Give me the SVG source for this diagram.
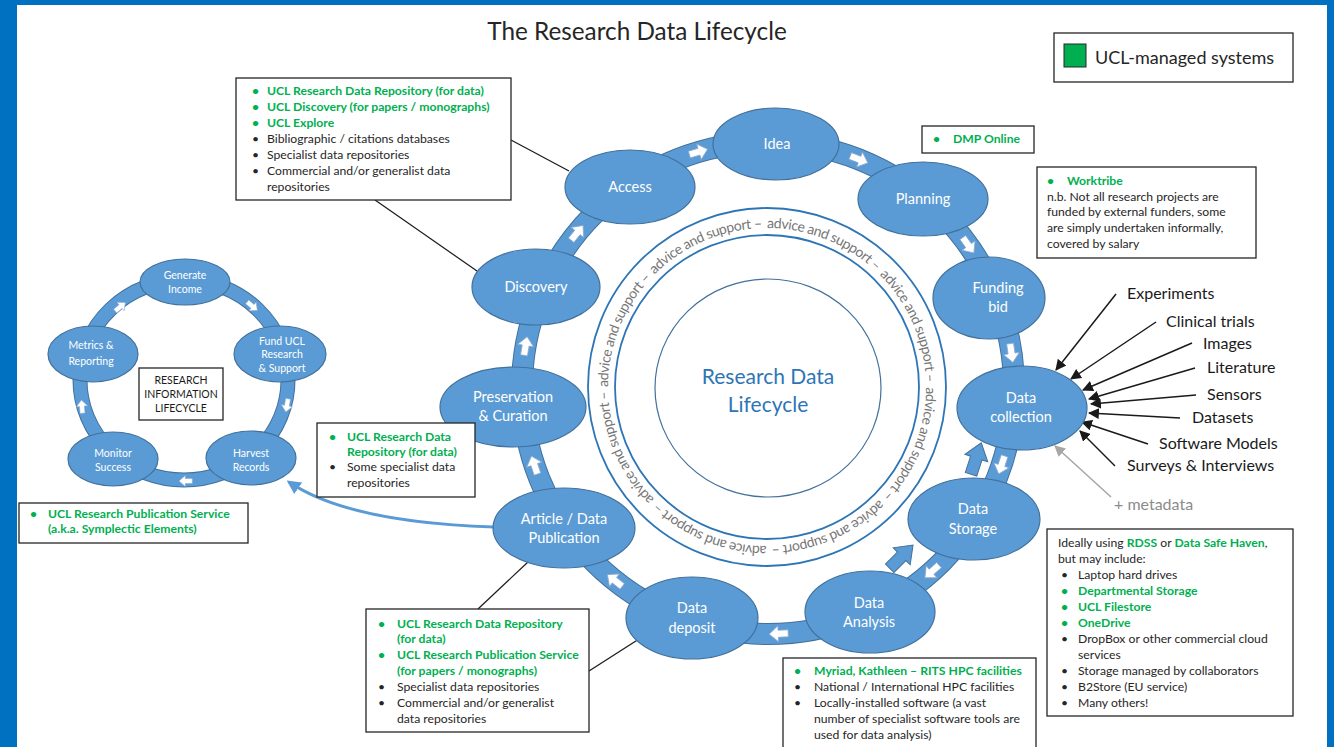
<svg xmlns="http://www.w3.org/2000/svg" width="1334" height="747" viewBox="0 0 1334 747">
<style>
text{font-family:Lato,"Liberation Sans",sans-serif}
.ell{fill:#5B9BD5;stroke:#41719C;stroke-width:1.2}
.nt{fill:#fff;font-size:14.5px;text-anchor:middle}
.snt{fill:#fff;font-size:10.5px;text-anchor:middle}
.box{fill:#fff;stroke:#262626;stroke-width:1.3}
.t{font-size:12.2px;fill:#262626}
.g{fill:#00B050;font-weight:bold}
.lbl{font-size:16px;fill:#1a1a1a}
.ln{stroke:#1a1a1a;stroke-width:1.2;fill:none}
.arr{stroke:#1a1a1a;stroke-width:1.5;fill:none;marker-end:url(#ah)}
.wa{fill:#fff;stroke:#8aa8cc;stroke-width:.8}
.ba{fill:#5B9BD5;stroke:#41719C;stroke-width:1}
.rt{font-size:14px;fill:#767676}
</style>
<defs>
<marker id="ah" viewBox="0 0 10 10" refX="9" refY="5" markerWidth="11" markerHeight="11" markerUnits="userSpaceOnUse" orient="auto"><path d="M0,0 L10,5 L0,10 z" fill="#1a1a1a"/></marker>
<marker id="ahg" viewBox="0 0 10 10" refX="9" refY="5" markerWidth="11" markerHeight="11" markerUnits="userSpaceOnUse" orient="auto"><path d="M0,0 L10,5 L0,10 z" fill="#a6a6a6"/></marker>
<marker id="ahb" viewBox="0 0 10 10" refX="8" refY="5" markerWidth="14" markerHeight="14" markerUnits="userSpaceOnUse" orient="auto"><path d="M0,0 L10,5 L0,10 z" fill="#5B9BD5"/></marker>
<path id="wArrow" d="M-9,-3.5 H1 V-8 L10,0 L1,8 V3.5 H-9 Z"/>
<path id="bArrow" d="M-16,-6 H1 V-12 L17,0 L1,12 V6 H-16 Z"/>
<path id="ringPath" d="M608,387 A159,159 0 1 1 926,387 A159,159 0 1 1 608,387"/>
</defs>

<rect x="0" y="0" width="1334" height="747" fill="#fff"/>
<rect x="0" y="0" width="17" height="747" fill="#0070C0"/>
<rect x="0" y="0" width="1334" height="5" fill="#0070C0"/>
<rect x="1327" y="0" width="7" height="747" fill="#0070C0"/>

<text x="637" y="40" font-size="24.3" fill="#262626" text-anchor="middle">The Research Data Lifecycle</text>

<g id="legend">
<rect class="box" x="1054" y="33" width="239" height="49"/>
<rect x="1064" y="44" width="22" height="23" fill="#00B050" stroke="#262626" stroke-width="1"/>
<text x="1095" y="64" font-size="18" fill="#262626">UCL-managed systems</text>
</g>

<g id="centre">
<circle cx="767" cy="387" r="179" fill="none" stroke="#2E75B6" stroke-width="1.8"/>
<circle cx="767" cy="387" r="152" fill="none" stroke="#2E75B6" stroke-width="1.8"/>
<ellipse cx="768" cy="388" rx="113" ry="109" fill="none" stroke="#41719C" stroke-width="1.2"/>
<text class="rt"><textPath href="#ringPath" startOffset="0" textLength="120" lengthAdjust="spacing">advice and support –</textPath></text>
<text class="rt"><textPath href="#ringPath" startOffset="124.9" textLength="120" lengthAdjust="spacing">advice and support –</textPath></text>
<text class="rt"><textPath href="#ringPath" startOffset="249.8" textLength="120" lengthAdjust="spacing">advice and support –</textPath></text>
<text class="rt"><textPath href="#ringPath" startOffset="374.7" textLength="120" lengthAdjust="spacing">advice and support –</textPath></text>
<text class="rt"><textPath href="#ringPath" startOffset="499.6" textLength="120" lengthAdjust="spacing">advice and support –</textPath></text>
<text class="rt"><textPath href="#ringPath" startOffset="624.5" textLength="120" lengthAdjust="spacing">advice and support –</textPath></text>
<text class="rt"><textPath href="#ringPath" startOffset="749.4" textLength="120" lengthAdjust="spacing">advice and support –</textPath></text>
<text class="rt"><textPath href="#ringPath" startOffset="874.3" textLength="120" lengthAdjust="spacing">advice and support –</textPath></text>
<text x="768" y="384" font-size="21" fill="#2E75B6" text-anchor="middle">Research Data</text>
<text x="768" y="412" font-size="21" fill="#2E75B6" text-anchor="middle">Lifecycle</text>
</g>

<g id="connectors">
<circle cx="768" cy="388" r="246" fill="none" stroke="#41719C" stroke-width="22"/>
<circle cx="768" cy="388" r="246" fill="none" stroke="#5B9BD5" stroke-width="20"/>
<ellipse cx="184" cy="380" rx="104" ry="100" fill="none" stroke="#41719C" stroke-width="15"/>
<ellipse cx="184" cy="380" rx="104" ry="100" fill="none" stroke="#5B9BD5" stroke-width="13"/>
<use href="#wArrow" class="wa" transform="translate(698,152) rotate(-16.5)"/>
<use href="#wArrow" class="wa" transform="translate(858.6,159.2) rotate(21.6)"/>
<use href="#wArrow" class="wa" transform="translate(968,244.8) rotate(54.4)"/>
<use href="#wArrow" class="wa" transform="translate(1011.4,352.5) rotate(81.7)"/>
<use href="#wArrow" class="wa" transform="translate(1001.8,464.4) rotate(108)"/>
<use href="#wArrow" class="wa" transform="translate(932.3,571.1) rotate(138)"/>
<use href="#wArrow" class="wa" transform="translate(779.2,633.7) rotate(177.4)"/>
<use href="#wArrow" class="wa" transform="translate(615.2,580.8) rotate(218.4)"/>
<use href="#wArrow" class="wa" transform="translate(534.6,465.6) rotate(251.6)"/>
<use href="#wArrow" class="wa" transform="translate(525.5,346.5) rotate(279.7)"/>
<use href="#wArrow" class="wa" transform="translate(576.8,233.2) rotate(309)"/>
<use href="#bArrow" class="ba" transform="translate(976,459) rotate(-72)"/>
<use href="#bArrow" class="ba" transform="translate(901,557) rotate(-45)"/>
<use href="#wArrow" class="wa" transform="translate(252,306) rotate(40) scale(.7)"/>
<use href="#wArrow" class="wa" transform="translate(287,405) rotate(100) scale(.7)"/>
<use href="#wArrow" class="wa" transform="translate(186,481) rotate(180) scale(.7)"/>
<use href="#wArrow" class="wa" transform="translate(82,407) rotate(-95) scale(.7)"/>
<use href="#wArrow" class="wa" transform="translate(120,307) rotate(-40) scale(.7)"/>
<line class="ln" x1="511" y1="140" x2="569" y2="171"/>
<line class="ln" x1="375" y1="200" x2="477" y2="271"/>
<line class="ln" x1="528" y1="562" x2="478" y2="609"/>
<line class="ln" x1="589" y1="671" x2="639" y2="639"/>
<path d="M494,527 C400,524 330,510 289,482" fill="none" stroke="#5B9BD5" stroke-width="3" marker-end="url(#ahb)"/>
<line class="arr" x1="1116" y1="294" x2="1056" y2="370"/>
<line class="arr" x1="1156" y1="322" x2="1071" y2="379"/>
<line class="arr" x1="1192" y1="343" x2="1083" y2="390"/>
<line class="arr" x1="1195" y1="368" x2="1089" y2="399"/>
<line class="arr" x1="1196" y1="395" x2="1091" y2="404"/>
<line class="arr" x1="1180" y1="418" x2="1089" y2="413"/>
<line class="arr" x1="1148" y1="444" x2="1082" y2="422"/>
<line class="arr" x1="1115" y1="466" x2="1080" y2="431"/>
<line x1="1111" y1="497" x2="1055" y2="446" stroke="#a6a6a6" stroke-width="1.5" marker-end="url(#ahg)"/>
</g>

<g id="n-idea"><ellipse class="ell" cx="776" cy="144" rx="63" ry="36"/><text class="nt" x="777" y="149">Idea</text></g>
<g id="n-access"><ellipse class="ell" cx="630" cy="187" rx="65" ry="37"/><text class="nt" x="630" y="192">Access</text></g>
<g id="n-planning"><ellipse class="ell" cx="923" cy="199" rx="65" ry="37"/><text class="nt" x="923" y="204">Planning</text></g>
<g id="n-funding"><ellipse class="ell" cx="989" cy="298" rx="56" ry="41"/><text class="nt" x="998" y="293">Funding</text><text class="nt" x="998" y="312">bid</text></g>
<g id="n-collection"><ellipse class="ell" cx="1022" cy="408" rx="65" ry="42"/><text class="nt" x="1021" y="403">Data</text><text class="nt" x="1021" y="422">collection</text></g>
<g id="n-storage"><ellipse class="ell" cx="974" cy="519" rx="66" ry="41"/><text class="nt" x="973" y="514">Data</text><text class="nt" x="973" y="534">Storage</text></g>
<g id="n-analysis"><ellipse class="ell" cx="870" cy="612" rx="65" ry="41"/><text class="nt" x="869" y="608">Data</text><text class="nt" x="869" y="627">Analysis</text></g>
<g id="n-deposit"><ellipse class="ell" cx="692" cy="618" rx="66" ry="41"/><text class="nt" x="692" y="613">Data</text><text class="nt" x="692" y="633">deposit</text></g>
<g id="n-publication"><ellipse class="ell" cx="564" cy="528" rx="71" ry="40"/><text class="nt" x="564" y="524">Article / Data</text><text class="nt" x="564" y="543">Publication</text></g>
<g id="n-preservation"><ellipse class="ell" cx="513" cy="407" rx="73" ry="40"/><text class="nt" x="513" y="402">Preservation</text><text class="nt" x="513" y="421">&amp; Curation</text></g>
<g id="n-discovery"><ellipse class="ell" cx="536" cy="287" rx="64" ry="38"/><text class="nt" x="536" y="292">Discovery</text></g>

<g id="r-generate"><ellipse class="ell" cx="185" cy="282" rx="45" ry="23"/><text class="snt" x="185" y="279">Generate</text><text class="snt" x="185" y="293">Income</text></g>
<g id="r-fund"><ellipse class="ell" cx="280" cy="354" rx="46" ry="28"/><text class="snt" x="282" y="345">Fund UCL</text><text class="snt" x="282" y="358">Research</text><text class="snt" x="282" y="372">&amp; Support</text></g>
<g id="r-harvest"><ellipse class="ell" cx="251" cy="458" rx="45" ry="27"/><text class="snt" x="251" y="457">Harvest</text><text class="snt" x="251" y="471">Records</text></g>
<g id="r-monitor"><ellipse class="ell" cx="113" cy="459" rx="45" ry="27"/><text class="snt" x="113" y="457">Monitor</text><text class="snt" x="113" y="471">Success</text></g>
<g id="r-metrics"><ellipse class="ell" cx="93" cy="354" rx="45" ry="28"/><text class="snt" x="91" y="349">Metrics &amp;</text><text class="snt" x="91" y="365">Reporting</text></g>
<g id="r-title"><rect class="box" x="139" y="368" width="84" height="52"/>
<text x="181" y="384" font-size="10.5" fill="#1a1a1a" text-anchor="middle">RESEARCH</text>
<text x="181" y="398" font-size="10.5" fill="#1a1a1a" text-anchor="middle">INFORMATION</text>
<text x="181" y="412" font-size="10.5" fill="#1a1a1a" text-anchor="middle">LIFECYCLE</text></g>

<g id="box-access">
<rect class="box" x="236" y="78" width="275" height="122"/>
<text class="t g" x="252" y="95">•</text><text class="t g" x="267" y="95">UCL Research Data Repository (for data)</text>
<text class="t g" x="252" y="111">•</text><text class="t g" x="267" y="111">UCL Discovery (for papers / monographs)</text>
<text class="t g" x="252" y="127">•</text><text class="t g" x="267" y="127">UCL Explore</text>
<text class="t" x="252" y="143">•</text><text class="t" x="267" y="143">Bibliographic / citations databases</text>
<text class="t" x="252" y="159">•</text><text class="t" x="267" y="159">Specialist data repositories</text>
<text class="t" x="252" y="175">•</text><text class="t" x="267" y="175">Commercial and/or generalist data</text>
<text class="t" x="267" y="191">repositories</text>
</g>

<g id="box-dmp">
<rect class="box" x="922" y="126" width="112" height="27"/>
<text class="t g" x="933" y="143">•</text><text class="t g" x="953" y="143">DMP Online</text>
</g>

<g id="box-worktribe">
<rect class="box" x="1037" y="167" width="219" height="91"/>
<text class="t g" x="1047" y="185">•</text><text class="t g" x="1067" y="185">Worktribe</text>
<text class="t" x="1047" y="201">n.b. Not all research projects are</text>
<text class="t" x="1047" y="216">funded by external funders, some</text>
<text class="t" x="1047" y="232">are simply undertaken informally,</text>
<text class="t" x="1047" y="248">covered by salary</text>
</g>

<g id="labels-sources">
<text class="lbl" x="1127" y="299">Experiments</text>
<text class="lbl" x="1166" y="327">Clinical trials</text>
<text class="lbl" x="1203" y="349">Images</text>
<text class="lbl" x="1207" y="373">Literature</text>
<text class="lbl" x="1207" y="400">Sensors</text>
<text class="lbl" x="1192" y="423">Datasets</text>
<text class="lbl" x="1159" y="449">Software Models</text>
<text class="lbl" x="1127" y="471">Surveys &amp; Interviews</text>
<text x="1114" y="510" font-size="16" fill="#8c8c8c">+ metadata</text>
</g>

<g id="box-preservation">
<rect class="box" x="317" y="423" width="158" height="74"/>
<text class="t g" x="329" y="441">•</text><text class="t g" x="347" y="441">UCL Research Data</text>
<text class="t g" x="347" y="456">Repository (for data)</text>
<text class="t" x="329" y="471">•</text><text class="t" x="347" y="471">Some specialist data</text>
<text class="t" x="347" y="487">repositories</text>
</g>

<g id="box-rps">
<rect class="box" x="19" y="503" width="229" height="40"/>
<text class="t g" x="30" y="518">•</text><text class="t g" x="48" y="518">UCL Research Publication Service</text>
<text class="t g" x="48" y="533">(a.k.a. Symplectic Elements)</text>
</g>

<g id="box-publication">
<rect class="box" x="366" y="609" width="223" height="123"/>
<text class="t g" x="378" y="628">•</text><text class="t g" x="397" y="628">UCL Research Data Repository</text>
<text class="t g" x="397" y="643">(for data)</text>
<text class="t g" x="378" y="659">•</text><text class="t g" x="397" y="659">UCL Research Publication Service</text>
<text class="t g" x="397" y="675">(for papers / monographs)</text>
<text class="t" x="378" y="691">•</text><text class="t" x="397" y="691">Specialist data repositories</text>
<text class="t" x="378" y="707">•</text><text class="t" x="397" y="707">Commercial and/or generalist</text>
<text class="t" x="397" y="723">data repositories</text>
</g>

<g id="box-analysis">
<rect class="box" x="783" y="658" width="253" height="100"/>
<text class="t g" x="794" y="675">•</text><text class="t g" x="814" y="675">Myriad, Kathleen – RITS HPC facilities</text>
<text class="t" x="794" y="691">•</text><text class="t" x="814" y="691">National / International HPC facilities</text>
<text class="t" x="794" y="707">•</text><text class="t" x="814" y="707">Locally-installed software (a vast</text>
<text class="t" x="814" y="723">number of specialist software tools are</text>
<text class="t" x="814" y="739">used for data analysis)</text>
</g>

<g id="box-storage">
<rect class="box" x="1047" y="529" width="246" height="187"/>
<text class="t" x="1058" y="547">Ideally using <tspan class="g">RDSS</tspan> or <tspan class="g">Data Safe Haven</tspan>,</text>
<text class="t" x="1058" y="563">but may include:</text>
<text class="t" x="1061" y="579">•</text><text class="t" x="1078" y="579">Laptop hard drives</text>
<text class="t g" x="1061" y="595">•</text><text class="t g" x="1078" y="595">Departmental Storage</text>
<text class="t g" x="1061" y="611">•</text><text class="t g" x="1078" y="611">UCL Filestore</text>
<text class="t g" x="1061" y="627">•</text><text class="t g" x="1078" y="627">OneDrive</text>
<text class="t" x="1061" y="643">•</text><text class="t" x="1078" y="643">DropBox or other commercial cloud</text>
<text class="t" x="1078" y="659">services</text>
<text class="t" x="1061" y="675">•</text><text class="t" x="1078" y="675">Storage managed by collaborators</text>
<text class="t" x="1061" y="691">•</text><text class="t" x="1078" y="691">B2Store (EU service)</text>
<text class="t" x="1061" y="707">•</text><text class="t" x="1078" y="707">Many others!</text>
</g>
</svg>
